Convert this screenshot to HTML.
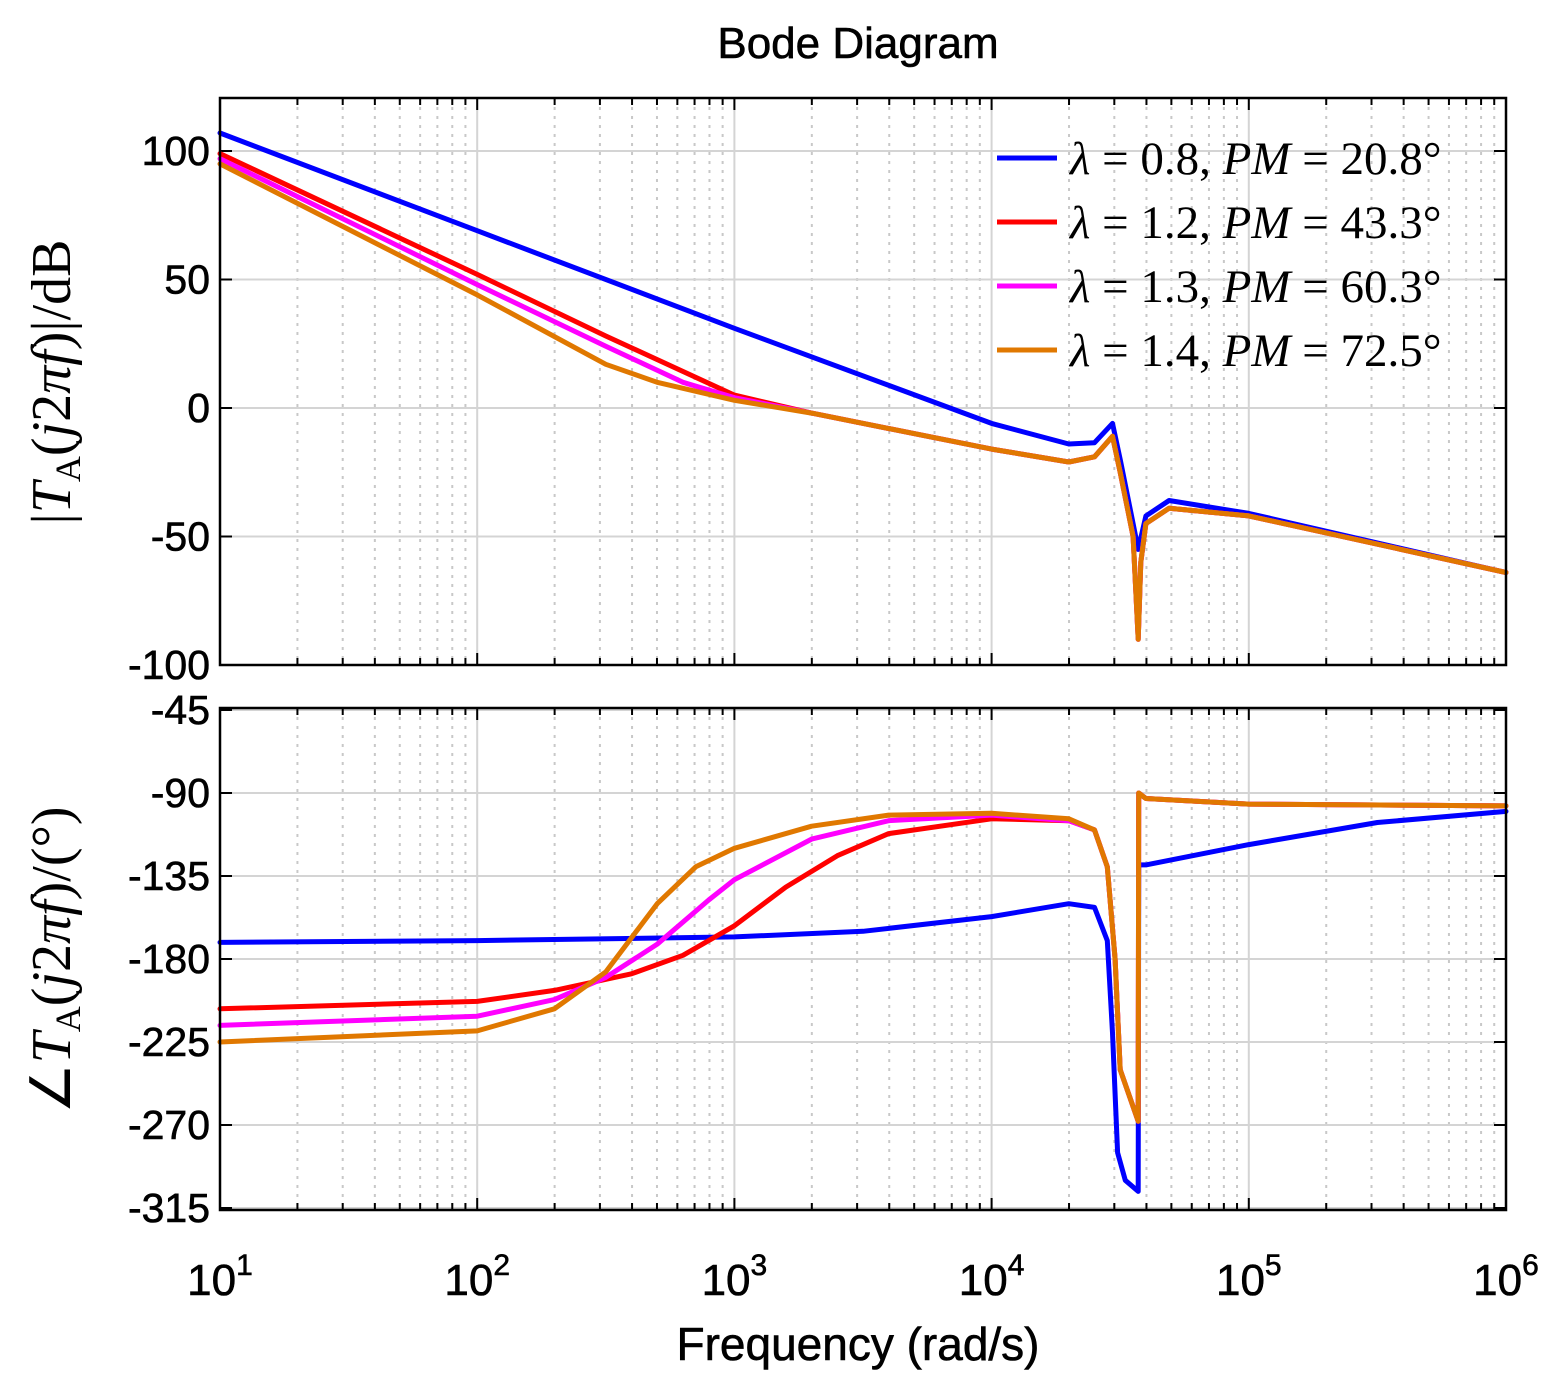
<!DOCTYPE html>
<html><head><meta charset="utf-8"><style>
html,body{margin:0;padding:0;background:#fff;}
svg{display:block;}
.tk{font-family:"Liberation Sans",sans-serif;font-size:41px;fill:#000;stroke:#000;stroke-width:0.6px;}
.lg{font-family:"Liberation Serif",serif;font-size:47px;fill:#000;}
</style></head><body>
<svg id="c" width="1556" height="1383">
<text x="858" y="58" text-anchor="middle" class="tk" style="font-size:44px">Bode Diagram</text>
<text x="858" y="1360" text-anchor="middle" class="tk" style="font-size:46px">Frequency  (rad/s)</text>
<text transform="translate(70,382) rotate(-90)" text-anchor="middle" class="lg" style="font-size:56px">|<tspan font-style="italic">T</tspan><tspan font-size="36" dy="10">A</tspan><tspan dy="-10">(</tspan><tspan font-style="italic">j</tspan>2<tspan font-style="italic">πf</tspan>)|/dB</text>
<text transform="translate(70,960) rotate(-90)" text-anchor="middle" class="lg" style="font-size:56px">∠<tspan font-style="italic">T</tspan><tspan font-size="36" dy="10">A</tspan><tspan dy="-10">(</tspan><tspan font-style="italic">j</tspan>2<tspan font-style="italic">πf</tspan>)/(°)</text>
<g id="g"></g>
</svg>
<script>
const decades=[1,2,3,4,5,6];
const magTicks=[100,50,0,-50,-100];
const phTicks=[-45,-90,-135,-180,-225,-270,-315];
const names=["λ = 0.8, PM = 20.8°","λ = 1.2, PM = 43.3°","λ = 1.3, PM = 60.3°","λ = 1.4, PM = 72.5°"];
const colors=["#0000ff","#ff0000","#ff00ff","#e07800"];
const fBlueMag=[1,2,3,4,4.3,4.4,4.47,4.5,4.55,4.57,4.6,4.69,5,6];
const vBlueMag=[107,69,31,-6,-14,-13.5,-6,-20,-45,-55,-42,-36,-41,-64];
const fRedMag=[1,2,2.5,3,3.3,4,4.3,4.4,4.47,4.5,4.55,4.57,4.58,4.6,4.69,5,6];
const vRedMag=[99,52,28,5,-2,-16,-21,-19,-11,-25,-50,-90,-60,-45,-39,-42,-64];
const fMagMag=[1,2,2.5,2.8,3,3.3,4,4.3,4.4,4.47,4.5,4.55,4.57,4.58,4.6,4.69,5,6];
const vMagMag=[97,48,24,10,4,-2,-16,-21,-19,-11,-25,-50,-90,-60,-45,-39,-42,-64];
const fOrMag=[1,2,2.5,2.7,3,3.3,4,4.3,4.4,4.47,4.5,4.55,4.57,4.58,4.6,4.69,5,6];
const vOrMag=[95,44,17,10,3,-2,-16,-21,-19,-11,-25,-50,-90,-60,-45,-39,-42,-64];
const fBluePh=[1,2,3,3.5,4,4.3,4.4,4.45,4.47,4.49,4.52,4.57,4.572,4.6,5,5.5,6];
const vBluePh=[-171,-170,-168,-165,-157,-150,-152,-170,-220,-285,-300,-306,-129,-129,-118,-106,-100];
const fRedPh=[1,2,2.3,2.6,2.8,3,3.2,3.4,3.6,4,4.3,4.4,4.45,4.48,4.5,4.57,4.572,4.6,5,6];
const vRedPh=[-207,-203,-197,-188,-178,-162,-141,-124,-112,-104,-105,-110,-130,-180,-240,-268,-90,-93,-96,-97];
const fMagPh=[1,2,2.3,2.5,2.7,2.9,3,3.3,3.6,4,4.3,4.4,4.45,4.48,4.5,4.57,4.572,4.6,5,6];
const vMagPh=[-216,-211,-202,-190,-172,-148,-137,-115,-105,-102,-105,-110,-130,-180,-240,-268,-90,-93,-96,-97];
const fOrPh=[1,2,2.3,2.5,2.7,2.85,3,3.3,3.6,4,4.3,4.4,4.45,4.48,4.5,4.57,4.572,4.6,5,6];
const vOrPh=[-225,-219,-207,-187,-150,-130,-120,-108,-102,-101,-104,-110,-130,-180,-240,-268,-90,-93,-96,-97];

const NS="http://www.w3.org/2000/svg";
const g=document.getElementById('g');
const X0=220,X1=1506;
const xs=l=>X0+(l-1)/5*(X1-X0);
const yMag=v=>408-(v)*2.57;
const yPh=v=>710+(-45-v)/45*83;
function el(t,a,p){const e=document.createElementNS(NS,t);for(const k in a)e.setAttribute(k,a[k]);(p||g).appendChild(e);return e;}
function panel(top,bot,yf,ticks,name){
  const pg=el('g',{});
  
  
  for(let d=1;d<6;d++)for(let m=2;m<10;m++){const x=xs(d+Math.log10(m));
    const l=el('line',{x1:x,x2:x,y1:top,y2:bot,stroke:'#c8c8c8','stroke-width':2,'stroke-dasharray':'3,6'},pg);
    }
  decades.forEach(d=>{const x=xs(d);const l=el('line',{x1:x,x2:x,y1:top,y2:bot,stroke:'#d4d4d4','stroke-width':2},pg);
    });
  ticks.forEach(t=>{const y=yf(t);const l=el('line',{x1:X0,x2:X1,y1:y,y2:y,stroke:'#d4d4d4','stroke-width':2},pg);
    
    el('line',{x1:X0,x2:X0+12,y1:y,y2:y,stroke:'#000','stroke-width':2},pg);
    el('line',{x1:X1,x2:X1-12,y1:y,y2:y,stroke:'#000','stroke-width':2},pg);
    const tx=el('text',{x:X0-10,y:y+14,'text-anchor':'end',class:'tk'},pg);tx.textContent=t;
    });
  for(let d=1;d<6;d++)for(let m=1;m<10;m++){const x=xs(d+Math.log10(m));const L=m==1?12:7;
    el('line',{x1:x,x2:x,y1:bot,y2:bot-L,stroke:'#000','stroke-width':2},pg);el('line',{x1:x,x2:x,y1:top,y2:top+L,stroke:'#000','stroke-width':2},pg);}
  return pg;
}
function series(fa,va,yf,c,name){
  const d=fa.map((f,i)=>(i?'L':'M')+xs(f).toFixed(1)+','+yf(va[i]).toFixed(1)).join(' ');
  const p=el('path',{d:d,fill:'none',stroke:c,'stroke-width':5,'stroke-linejoin':'round','stroke-linecap':'round'});
  
  
}
panel(98,665,yMag,magTicks,'magnitude-panel');
panel(708,1210,yPh,phTicks,'phase-panel');
series(fBlueMag,vBlueMag,yMag,colors[0],'mag-line-0.8');
series(fRedMag,vRedMag,yMag,colors[1],'mag-line-1.2');
series(fMagMag,vMagMag,yMag,colors[2],'mag-line-1.3');
series(fOrMag,vOrMag,yMag,colors[3],'mag-line-1.4');
series(fBluePh,vBluePh,yPh,colors[0],'phase-line-0.8');
series(fRedPh,vRedPh,yPh,colors[1],'phase-line-1.2');
series(fMagPh,vMagPh,yPh,colors[2],'phase-line-1.3');
series(fOrPh,vOrPh,yPh,colors[3],'phase-line-1.4');
[[98,665],[708,1210]].forEach(([t,b])=>{const r=el('rect',{x:X0,y:t,width:X1-X0,height:b-t,fill:'none',stroke:'#000','stroke-width':2.5});
  });
decades.forEach(d=>{const tx=el('text',{x:xs(d),y:1295,'text-anchor':'middle',class:'tk',style:'font-size:44px'});
  tx.innerHTML='10<tspan dy="-20" font-size="30">'+d+'</tspan>';
  });
names.forEach((n,i)=>{const y=158+i*64;
  const l=el('line',{x1:997,x2:1057,y1:y,y2:y,stroke:colors[i],'stroke-width':5});
  
  const parts=n.split(', ');
  const t=el('text',{x:1070,y:y+16,class:'lg'});
  t.innerHTML='<tspan font-style="italic">λ</tspan>'+parts[0].slice(1)+', <tspan font-style="italic">PM</tspan>'+parts[1].slice(2);
  });
</script>
</body></html>
